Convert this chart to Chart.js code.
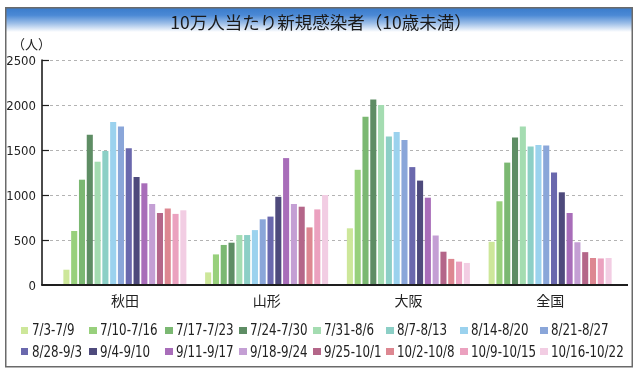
<!DOCTYPE html>
<html>
<head>
<meta charset="utf-8">
<script src="https://cdn.jsdelivr.net/npm/chart.js@4.4.1/dist/chart.umd.min.js"></script>
<style>
  html, body { margin:0; padding:0; background:#fff; overflow:hidden; }
  #wrap { position:relative; width:640px; height:377px; overflow:hidden; background:#fff; }
  canvas { position:absolute; left:0; top:0; }
  #title { position:absolute; left:0; top:10px; width:642px; text-align:center;
    font-family:'Noto Sans CJK JP', sans-serif; font-size:17.5px; color:#1a1a1a; line-height:24px; }
  #unit { position:absolute; left:12px; top:34px; font-family:'Noto Sans CJK JP', sans-serif; font-size:13px; color:#222; }
  .lg { position:absolute; height:18px; white-space:nowrap; }
  .lg i { position:absolute; left:0; top:5.5px; width:7.5px; height:7px; }
  .lg span { position:absolute; left:11px; top:0; line-height:18px;
    font-family:'DejaVu Sans Condensed','DejaVu Sans',sans-serif; font-stretch:condensed; font-size:15px; color:#222;
    transform:scaleX(0.88); transform-origin:0 50%; }
</style>
</head>
<body>
<div id="wrap">
  <canvas id="c" width="640" height="377"></canvas>
  <div id="title">10万人当たり新規感染者（10歳未満）</div>
  <div id="unit">（人）</div>
  <div id="legend"></div>
</div>
<script>
// ---- data ----
const categories = ['秋田', '山形', '大阪', '全国'];
const periods = ['7/3-7/9','7/10-7/16','7/17-7/23','7/24-7/30','7/31-8/6','8/7-8/13','8/14-8/20','8/21-8/27',
                 '8/28-9/3','9/4-9/10','9/11-9/17','9/18-9/24','9/25-10/1','10/2-10/8','10/9-10/15','10/16-10/22'];
const akita    = [170, 600, 1170, 1670, 1370, 1490, 1810, 1760, 1520, 1200, 1130, 900, 800, 850, 790, 830];
const yamagata = [140, 340, 445, 470, 555, 555, 610, 730, 760, 980, 1410, 900, 870, 640, 840, 1000];
const osaka    = [630, 1280, 1870, 2060, 2000, 1650, 1700, 1610, 1310, 1160, 970, 550, 370, 290, 260, 245];
const zenkoku  = [480, 930, 1360, 1640, 1760, 1540, 1555, 1550, 1250, 1030, 800, 475, 365, 300, 295, 300];
const yTicks   = [0, 500, 1000, 1500, 2000, 2500];
const colors = ['#cde79a','#98d07c','#7bb872','#5e8d64','#a4dcb1','#8ccfc6','#9bd2ee','#8aa6d9',
                '#6a68ad','#4e4a7c','#a86db9','#c49fd4','#b46689','#dd8791','#eba1bf','#f2cde3'];

const regionValues = [akita, yamagata, osaka, zenkoku];
const datasets = periods.map((p, i) => ({
  label: p,
  data: regionValues.map(r => r[i]),
  backgroundColor: colors[i],
  borderWidth: 0,
  categoryPercentage: 0.88,
  barPercentage: 0.78
}));

const condensed = "'DejaVu Sans Condensed', 'DejaVu Sans', sans-serif";

const framePlugin = {
  id: 'frame',
  beforeDraw(chart) {
    const ctx = chart.ctx;
    ctx.save();
    const g = ctx.createLinearGradient(0, 8, 0, 32);
    g.addColorStop(0, '#3a7ccc');
    g.addColorStop(0.3, '#4b89d5');
    g.addColorStop(0.65, '#9fc0e8');
    g.addColorStop(1, '#ffffff');
    ctx.fillStyle = g;
    ctx.fillRect(6, 8, 626, 24);
    ctx.strokeStyle = '#6a6a6a';
    ctx.lineWidth = 1.5;
    ctx.strokeRect(5.75, 7.75, 626.5, 359);
    ctx.restore();
  }
};

const axisPlugin = {
  id: 'axisLines',
  beforeDatasetsDraw(chart) {
    const ctx = chart.ctx, y = chart.scales.y, a = chart.chartArea;
    ctx.save();
    ctx.strokeStyle = '#b3b3b3'; ctx.lineWidth = 1; ctx.setLineDash([3, 3]);
    yTicks.forEach(v => {
      if (v === 0) return;
      const py = Math.round(y.getPixelForValue(v)) + 0.5;
      ctx.beginPath(); ctx.moveTo(a.left - 4, py); ctx.lineTo(a.right + 5, py); ctx.stroke();
    });
    ctx.restore();
  },
  afterDatasetsDraw(chart) {
    const ctx = chart.ctx, y = chart.scales.y, a = chart.chartArea;
    const ax = a.left - 12;
    ctx.save();
    ctx.strokeStyle = '#1e1e1e';
    ctx.lineWidth = 1.6;
    ctx.beginPath(); ctx.moveTo(ax, y.getPixelForValue(2500) - 0.5); ctx.lineTo(ax, a.bottom); ctx.stroke();
    ctx.lineWidth = 1.2;
    yTicks.forEach(v => {
      if (v === 0) return;
      const py = Math.round(y.getPixelForValue(v)) + 0.5;
      ctx.beginPath(); ctx.moveTo(ax, py); ctx.lineTo(ax + 7, py); ctx.stroke();
    });
    ctx.lineWidth = 2;
    const by = y.getPixelForValue(0);
    ctx.beginPath(); ctx.moveTo(ax - 0.8, by); ctx.lineTo(a.right + 7, by); ctx.stroke();
    ctx.restore();
  }
};

const chart = new Chart(document.getElementById('c'), {
  type: 'bar',
  data: { labels: categories, datasets },
  options: {
    responsive: false,
    animation: false,
    devicePixelRatio: 1,
    layout: { padding: { top: 60, left: 0, right: 19, bottom: 0 } },
    plugins: { legend: { display: false }, title: { display: false }, tooltip: { enabled: false } },
    scales: {
      x: {
        grid: { display: false, drawTicks: false },
        border: { display: false },
        ticks: { padding: 7, color: '#222', font: { family: "'Noto Sans CJK JP', sans-serif", size: 14 } },
        afterFit(s) { s.height = 92; }
      },
      y: {
        min: 0, max: 2500,
        grid: { display: false, drawTicks: false },
        border: { display: false },
        ticks: { stepSize: 500, padding: 18, labelOffset: 2, color: '#222', font: { family: condensed, size: 13 },
                 callback: v => String(v) },
        afterFit(s) { s.width = 54; }
      }
    }
  },
  plugins: [framePlugin, axisPlugin]
});

// HTML legend, built from the chart's datasets
const colX = [20.5, 89, 165, 239, 313, 386, 460, 540];
const rowY = [321, 342.5];
const lg = document.getElementById('legend');
chart.data.datasets.forEach((ds, i) => {
  const d = document.createElement('div');
  d.className = 'lg';
  d.style.left = colX[i % 8] + 'px';
  d.style.top = rowY[Math.floor(i / 8)] + 'px';
  d.innerHTML = '<i style="background:' + ds.backgroundColor + '"></i><span>' + ds.label + '</span>';
  lg.appendChild(d);
});
</script>
</body>
</html>
